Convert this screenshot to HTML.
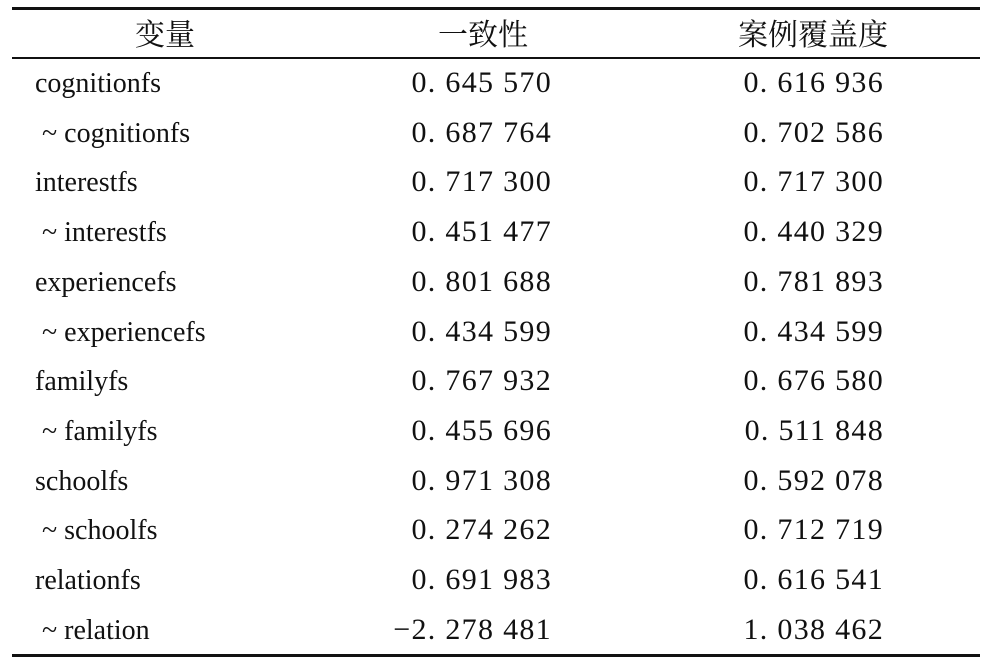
<!DOCTYPE html>
<html><head><meta charset="utf-8"><style>
body{margin:0;width:992px;height:672px;background:#fff;position:relative;overflow:hidden;font-family:"Liberation Serif","Noto Serif CJK SC",serif;color:#111}
.l{position:absolute;left:12px;width:968px;background:#111}
.t{position:absolute;font-size:28px;line-height:30px;white-space:nowrap}
.h{position:absolute;font-family:"Noto Serif CJK SC","Liberation Serif",serif;font-size:30px;line-height:34px;top:15px;transform:translateX(-50%);white-space:nowrap}
.n{font-size:30px;letter-spacing:1.3px;text-align:right}
</style></head><body>
<div class="l" style="top:7px;height:3px"></div>
<div class="l" style="top:57px;height:1.5px"></div>
<div class="l" style="top:654px;height:3px"></div>
<div class="h" style="left:165px">变量</div>
<div class="h" style="left:483px">一致性</div>
<div class="h" style="left:813px">案例覆盖度</div>
<div id="rows"></div>
<script>
var d=[["cognitionfs","0. 645 570","0. 616 936"],[" ~ cognitionfs","0. 687 764","0. 702 586"],["interestfs","0. 717 300","0. 717 300"],[" ~ interestfs","0. 451 477","0. 440 329"],["experiencefs","0. 801 688","0. 781 893"],[" ~ experiencefs","0. 434 599","0. 434 599"],["familyfs","0. 767 932","0. 676 580"],[" ~ familyfs","0. 455 696","0. 511 848"],["schoolfs","0. 971 308","0. 592 078"],[" ~ schoolfs","0. 274 262","0. 712 719"],["relationfs","0. 691 983","0. 616 541"],[" ~ relation","\u22122. 278 481","1. 038 462"]];
var h="";
d.forEach(function(r,i){var y=69+i*49.7;
var a=r[0];var pad=a.charAt(0)==" "?"left:42px":"left:35px";
h+='<div class="t" style="top:'+y+'px;'+pad+'">'+a.trim()+'</div>';
h+='<div class="t n" style="top:'+(y-1)+'px;right:'+(992-552)+'px">'+r[1]+'</div>';
h+='<div class="t n" style="top:'+(y-1)+'px;right:'+(992-884)+'px">'+r[2]+'</div>';});
document.getElementById("rows").innerHTML=h;
</script>
</body></html>
